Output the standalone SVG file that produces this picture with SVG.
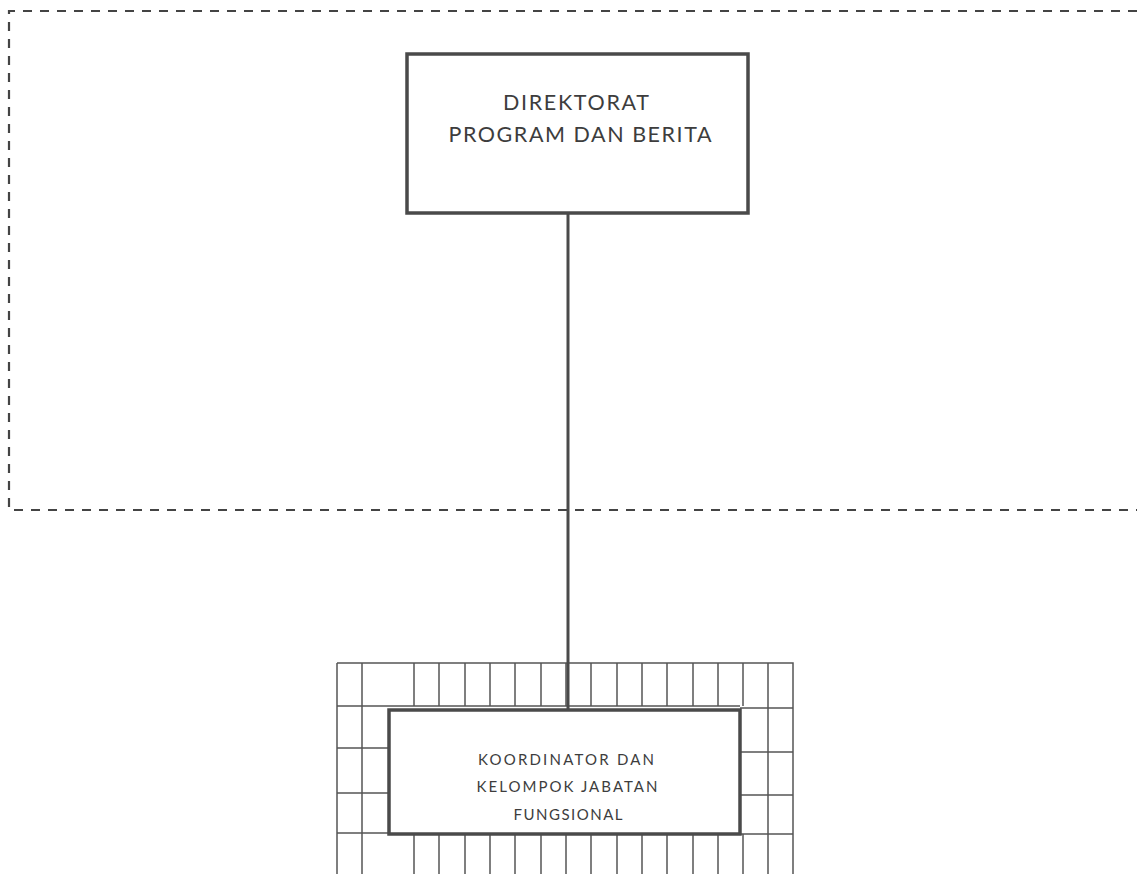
<svg xmlns="http://www.w3.org/2000/svg" width="1137" height="874" viewBox="0 0 1137 874">
<style>
.box{fill:#fff;stroke:#4a4a4a;stroke-width:3.5}
.grid{fill:none;stroke:#555;stroke-width:1.5}
.dash{fill:none;stroke:#444;stroke-width:2.2;stroke-dasharray:9 8}
.t1{font-family:Lato,"Open Sans",sans-serif;font-size:21.5px;fill:#3d3d3d;text-anchor:middle}
.t2{font-family:Lato,"Open Sans",sans-serif;font-size:15px;fill:#3d3d3d;text-anchor:middle}
.conn{stroke:#4a4a4a;stroke-width:3;fill:none}
</style>
<rect width="1137" height="874" fill="#fff"/>
<path class="dash" d="M1137,11 H9 V510 H1137"/>
<g id="grid-frame">
<path class="grid" d="M337,663 H793 V874 M337,663 V874 M337,706 H389 M337,748 H389 M337,793 H389 M337,833 H389 M740,708 H793 M740,752 H793 M740,795 H793 M740,834 H793 M389,706 H740
M362,663 V874 M768,663 V874
M414,663 V706 M439,663 V706 M465,663 V706 M490,663 V706 M515,663 V706 M541,663 V706 M566,663 V706 M591,663 V706 M617,663 V706 M642,663 V706 M667,663 V706 M693,663 V706 M718,663 V706 M743,663 V706
M414,834 V874 M439,834 V874 M465,834 V874 M490,834 V874 M515,834 V874 M541,834 V874 M566,834 V874 M591,834 V874 M617,834 V874 M642,834 V874 M667,834 V874 M693,834 V874 M718,834 V874 M743,834 V874"/>
</g>
<g id="connectors">
<line class="conn" x1="568" y1="213" x2="568" y2="710"/>
</g>
<g id="node-direktorat">
<rect class="box" x="407" y="54" width="341" height="159"/>
<text class="t1" x="576" y="110" textLength="146" lengthAdjust="spacing">DIREKTORAT</text>
<text class="t1" x="580" y="142" textLength="263" lengthAdjust="spacing">PROGRAM DAN BERITA</text>
</g>
<g id="node-koordinator">
<rect class="box" x="389" y="710" width="351" height="124"/>
<text class="t2" x="566" y="765" textLength="176" lengthAdjust="spacing">KOORDINATOR DAN</text>
<text class="t2" x="567" y="792" textLength="181" lengthAdjust="spacing">KELOMPOK JABATAN</text>
<text class="t2" x="568" y="820" textLength="109" lengthAdjust="spacing">FUNGSIONAL</text>
</g>
</svg>
